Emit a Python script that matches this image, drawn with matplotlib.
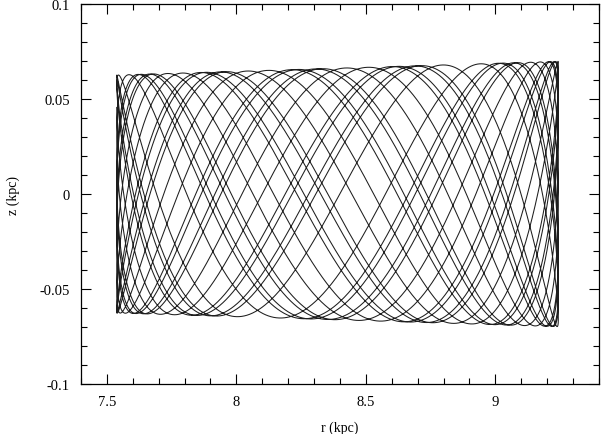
import numpy as np
import matplotlib.pyplot as plt
from matplotlib.ticker import MultipleLocator

# orbit: radial turning points, vertical amplitude there,
# ratio of vertical to radial frequency and number of radial periods drawn
r_turn = [7.538, 9.243]          # kpc
z_amp_turn = [0.0626, 0.0698]    # kpc, at inner / outer turning point
freq_ratio = 3.236
n_rad_periods = 12
z_phase0 = 0.3

x_ticks = [7.5, 8, 8.5, 9]
x_labels = ['7.5', '8', '8.5', '9']
y_ticks = [-0.1, -0.05, 0, 0.05, 0.1]
y_labels = ['-0.1', '-0.05', '0', '0.05', '0.1']

plt.rcParams['font.family'] = ['Liberation Serif', 'DejaVu Serif']

# epicycle-like orbit in the meridional plane
t = np.linspace(0, 2*np.pi*n_rad_periods, 30000)
rc = 0.5*(r_turn[0] + r_turn[1])
ra = 0.5*(r_turn[1] - r_turn[0])
r = rc - ra*np.cos(t)
z = np.interp(r, r_turn, z_amp_turn)*np.cos(freq_ratio*t + z_phase0)

fig = plt.figure(figsize=(6.04, 4.35), dpi=100)
ax = fig.add_axes([0.1341, 0.1149, 0.8576, 0.8736])
ax.plot(r, z, color='#1e1e1e', lw=0.75)

ax.set_xlim(7.4, 9.4)
ax.set_ylim(-0.1, 0.1)
ax.set_xticks(x_ticks)
ax.set_xticklabels(x_labels)
ax.set_yticks(y_ticks)
ax.set_yticklabels(y_labels)
ax.xaxis.set_minor_locator(MultipleLocator(0.1))
ax.yaxis.set_minor_locator(MultipleLocator(0.01))
ax.tick_params(which='both', direction='in', top=True, right=True, labelsize=10.5, pad=8)
ax.tick_params(which='major', length=7, width=0.8)
ax.tick_params(which='minor', length=4, width=0.8)
for s in ax.spines.values():
    s.set_linewidth(0.9)

ax.set_xlabel('r (kpc)', fontsize=10, labelpad=9)
ax.set_ylabel('z (kpc)', fontsize=10, labelpad=14)

fig.savefig('out.png', dpi=100)
